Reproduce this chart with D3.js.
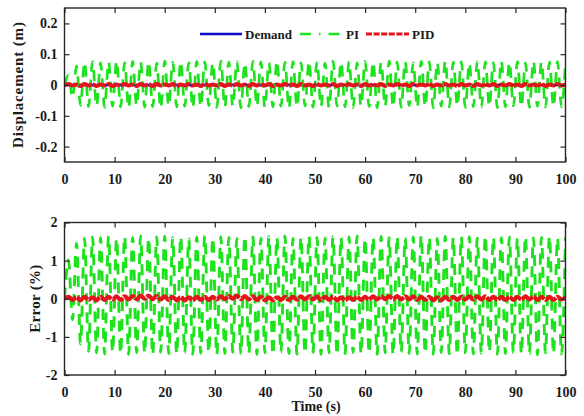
<!DOCTYPE html>
<html><head><meta charset="utf-8">
<script src="https://cdn.jsdelivr.net/npm/d3@7"></script>
<style>
body{margin:0;background:#fff}
svg{display:block}
text{font-family:"Liberation Serif","Times New Roman",serif;font-weight:bold;fill:#1a1a1a}
</style>
</head><body>
<svg id="c" width="584" height="416"></svg>
<script>
// ---- data ----
const xTicks = [0,10,20,30,40,50,60,70,80,90,100];
const dispTicks = [-0.2,-0.1,0,0.1,0.2];
const dispTickLabels = ["-0.2","-0.1","0","0.1","0.2"];
const errTicks = [-2,-1,0,1,2];
const errTickLabels = ["-2","-1","0","1","2"];
const seriesNames = ["Demand","PI","PID"];

const demandTime = [0,100];
const demandDisp = [0,0];

// times of successive extremes (half-cycle turning points) of the oscillations
const time = [
0,0.8,1.6,2.4,3.2,4,4.8,5.6,6.4,7.2,
8,8.8,9.6,10.4,11.2,12,12.8,13.6,14.4,15.2,
16,16.8,17.6,18.4,19.2,20,20.8,21.6,22.4,23.2,
24,24.8,25.6,26.4,27.2,28,28.8,29.6,30.4,31.2,
32,32.8,33.6,34.4,35.2,36,36.8,37.6,38.4,39.2,
40,40.8,41.6,42.4,43.2,44,44.8,45.6,46.4,47.2,
48,48.8,49.6,50.4,51.2,52,52.8,53.6,54.4,55.2,
56,56.8,57.6,58.4,59.2,60,60.8,61.6,62.4,63.2,
64,64.8,65.6,66.4,67.2,68,68.8,69.6,70.4,71.2,
72,72.8,73.6,74.4,75.2,76,76.8,77.6,78.4,79.2,
80,80.8,81.6,82.4,83.2,84,84.8,85.6,86.4,87.2,
88,88.8,89.6,90.4,91.2,92,92.8,93.6,94.4,95.2,
96,96.8,97.6,98.4,99.2,100];

const piDisp = [
0,0.032,-0.041,0.061,-0.066,0.074,-0.07,0.076,-0.068,0.072,
-0.073,0.075,-0.069,0.078,-0.071,0.073,-0.074,0.077,-0.067,0.074,
-0.072,0.076,-0.07,0.071,-0.075,0.078,-0.068,0.074,-0.071,0.076,
-0.069,0.073,-0.074,0.077,-0.07,0.075,-0.067,0.072,-0.073,0.078,
-0.071,0.074,-0.069,0.076,-0.074,0.071,-0.07,0.077,-0.068,0.075,
-0.073,0.072,-0.071,0.078,-0.069,0.074,-0.075,0.076,-0.07,0.073,
-0.068,0.077,-0.072,0.075,-0.07,0.071,-0.074,0.078,-0.069,0.074,
-0.071,0.076,-0.073,0.072,-0.068,0.077,-0.07,0.075,-0.074,0.073,
-0.069,0.078,-0.071,0.074,-0.073,0.076,-0.067,0.072,-0.072,0.077,
-0.07,0.075,-0.074,0.073,-0.069,0.078,-0.071,0.074,-0.068,0.076,
-0.073,0.071,-0.07,0.077,-0.072,0.075,-0.069,0.073,-0.074,0.078,
-0.071,0.074,-0.068,0.076,-0.07,0.072,-0.073,0.077,-0.069,0.075,
-0.072,0.074,-0.07,0.076,-0.071,0.073];

const pidDisp = [
0,0.003,-0.002,0.002,-0.003,0.003,-0.002,0.002,-0.003,0.002,
-0.002,0.003,-0.003,0.002,-0.002,0.003,-0.002,0.002,-0.003,0.003,
-0.002,0.002,-0.003,0.003,-0.002,0.002,-0.002,0.003,-0.003,0.002,
-0.002,0.003,-0.002,0.002,-0.003,0.003,-0.002,0.002,-0.002,0.003,
-0.003,0.002,-0.002,0.003,-0.002,0.002,-0.003,0.003,-0.002,0.002,
-0.002,0.003,-0.003,0.002,-0.002,0.003,-0.002,0.002,-0.003,0.003,
-0.002,0.002,-0.003,0.003,-0.002,0.002,-0.002,0.003,-0.003,0.002,
-0.002,0.003,-0.002,0.002,-0.003,0.003,-0.002,0.002,-0.002,0.003,
-0.003,0.002,-0.002,0.003,-0.002,0.002,-0.003,0.003,-0.002,0.002,
-0.002,0.003,-0.003,0.002,-0.002,0.003,-0.002,0.002,-0.003,0.003,
-0.002,0.002,-0.003,0.003,-0.002,0.002,-0.002,0.003,-0.003,0.002,
-0.002,0.003,-0.002,0.002,-0.003,0.003,-0.002,0.002,-0.002,0.003,
-0.003,0.002,-0.002,0.003,-0.002,0.002];

const piErr = [
0,1.02,-0.55,1.46,-1.18,1.58,-1.38,1.62,-1.42,1.6,
-1.45,1.64,-1.4,1.58,-1.44,1.63,-1.46,1.61,-1.41,1.65,
-1.43,1.59,-1.47,1.62,-1.4,1.64,-1.44,1.6,-1.45,1.63,
-1.42,1.57,-1.46,1.62,-1.43,1.65,-1.41,1.6,-1.47,1.63,
-1.44,1.61,-1.4,1.58,-1.45,1.64,-1.43,1.62,-1.46,1.59,
-1.42,1.63,-1.47,1.6,-1.41,1.65,-1.44,1.58,-1.45,1.62,
-1.43,1.64,-1.4,1.61,-1.46,1.59,-1.42,1.63,-1.47,1.6,
-1.44,1.62,-1.41,1.65,-1.45,1.58,-1.43,1.61,-1.46,1.64,
-1.42,1.6,-1.47,1.63,-1.4,1.59,-1.44,1.62,-1.45,1.65,
-1.43,1.61,-1.46,1.58,-1.41,1.64,-1.44,1.6,-1.47,1.62,
-1.42,1.63,-1.45,1.59,-1.43,1.65,-1.4,1.61,-1.46,1.6,
-1.44,1.62,-1.41,1.58,-1.45,1.63,-1.43,1.6,-1.47,1.61,
-1.42,1.64,-1.44,1.59,-1.45,1.6];

const pidErr = [
0,0.05,-0.03,0.04,-0.04,0.05,-0.03,0.04,-0.04,0.05,
-0.03,0.05,-0.02,0.06,-0.03,0.06,-0.02,0.07,-0.01,0.08,
0,0.08,-0.01,0.07,-0.02,0.06,-0.03,0.05,-0.04,0.04,
-0.04,0.04,-0.04,0.05,-0.03,0.05,-0.03,0.05,-0.02,0.06,
-0.01,0.07,0,0.08,-0.01,0.07,-0.02,0.06,-0.03,0.05,
-0.04,0.04,-0.04,0.04,-0.03,0.05,-0.03,0.05,-0.02,0.06,
-0.02,0.06,-0.02,0.06,-0.03,0.05,-0.03,0.05,-0.04,0.04,
-0.04,0.04,-0.03,0.05,-0.03,0.05,-0.02,0.06,-0.02,0.06,
-0.01,0.07,-0.01,0.07,-0.02,0.06,-0.02,0.06,-0.03,0.05,
-0.03,0.05,-0.04,0.04,-0.04,0.05,-0.03,0.05,-0.03,0.05,
-0.02,0.06,-0.02,0.06,-0.02,0.06,-0.03,0.05,-0.03,0.05,
-0.03,0.05,-0.03,0.05,-0.02,0.06,-0.02,0.06,-0.03,0.05,
-0.03,0.05,-0.03,0.05,-0.02,0.04];

// ---- drawing ----
const COL = {Demand:"#0b0bc8", PI:"#1ee21e", PID:"#e3141a"};
const svg = d3.select("#c");
const x = d3.scaleLinear().domain([0,100]).range([64.5,565.5]);

const panels = [
  {id:"p1", top:8, bottom:162, domain:[-0.25,0.25], ticks:dispTicks, labels:dispTickLabels,
   ylabel:"Displacement (m)", ylx:23, yllen:126,
   series:[
     {name:"Demand", t:demandTime, v:demandDisp, w:2.5, dash:null},
     {name:"PI", t:time, v:piDisp, w:2.7, dash:"11,8"},
     {name:"PID", t:time, v:pidDisp, w:4, dash:"14,1"}]},
  {id:"p2", top:222.5, bottom:375, domain:[-2,2], ticks:errTicks, labels:errTickLabels,
   ylabel:"Error (%)", ylx:40, yllen:68,
   series:[
     {name:"PI", t:time, v:piErr, w:2.9, dash:"11,8"},
     {name:"PID", t:time, v:pidErr, w:4.2, dash:"14,1"}]}
];

panels.forEach(p => {
  const y = d3.scaleLinear().domain(p.domain).range([p.bottom, p.top]);
  const g = svg.append("g");
  g.append("clipPath").attr("id","clip-"+p.id).append("rect")
    .attr("x",x.range()[0]).attr("y",p.top)
    .attr("width",x.range()[1]-x.range()[0]).attr("height",p.bottom-p.top);

  const plot = g.append("g").attr("clip-path","url(#clip-"+p.id+")");
  p.series.forEach(s => {
    const pts = s.t.map((t,i)=>[t,s.v[i]]);
    const line = d3.line().x(d=>x(d[0])).y(d=>y(d[1])).curve(d3.curveMonotoneX);
    plot.append("path").attr("d",line(pts)).attr("fill","none")
      .attr("stroke",COL[s.name]).attr("stroke-width",s.w)
      .attr("stroke-dasharray",s.dash);
  });

  const fmtY = d => p.labels[p.ticks.indexOf(d)];
  const axes = [
    g.append("g").attr("transform",`translate(0,${p.bottom})`)
      .call(d3.axisBottom(x).tickValues(xTicks).tickSizeInner(-5).tickSizeOuter(0).tickPadding(12).tickFormat(d3.format("d"))),
    g.append("g").attr("transform",`translate(0,${p.top})`)
      .call(d3.axisTop(x).tickValues(xTicks).tickSizeInner(-5).tickSizeOuter(0).tickFormat("")),
    g.append("g").attr("transform",`translate(${x.range()[0]},0)`)
      .call(d3.axisLeft(y).tickValues(p.ticks).tickSizeInner(-5).tickSizeOuter(0).tickPadding(7).tickFormat(fmtY)),
    g.append("g").attr("transform",`translate(${x.range()[1]},0)`)
      .call(d3.axisRight(y).tickValues(p.ticks).tickSizeInner(-5).tickSizeOuter(0).tickFormat(""))
  ];
  axes.forEach(a => {
    a.attr("font-family",null).attr("font-size",null);
    a.select(".domain").remove();
    a.selectAll("line").attr("stroke","#262626").attr("stroke-width",1.2);
    a.selectAll("text").attr("font-size",14).attr("fill","#1a1a1a");
  });
  g.append("rect").attr("x",x.range()[0]).attr("y",p.top)
    .attr("width",x.range()[1]-x.range()[0]).attr("height",p.bottom-p.top)
    .attr("fill","none").attr("stroke","#262626").attr("stroke-width",1.4);

  g.append("text").attr("transform",`translate(${p.ylx},${(p.top+p.bottom)/2}) rotate(-90)`)
    .attr("text-anchor","middle").attr("font-size",15)
    .attr("textLength",p.yllen).attr("lengthAdjust","spacing")
    .text(p.ylabel);
});

svg.append("text").attr("x",316).attr("y",411).attr("text-anchor","middle")
  .attr("font-size",14).text("Time (s)");

// legend
const legend = [
  {name:seriesNames[0], x1:200, x2:242, tx:245, w:2.6, dash:null},
  {name:seriesNames[1], x1:300, x2:343, tx:346, w:2.6, dash:"11,8,1.5,8"},
  {name:seriesNames[2], x1:366, x2:409, tx:412, w:3, dash:"6,1.6"}
];
const lg = svg.append("g");
legend.forEach(l => {
  lg.append("line").attr("x1",l.x1).attr("x2",l.x2).attr("y1",34).attr("y2",34)
    .attr("stroke",COL[l.name]).attr("stroke-width",l.w).attr("stroke-dasharray",l.dash);
  lg.append("text").attr("x",l.tx).attr("y",38.5).attr("font-size",13).text(l.name);
});
</script>
</body></html>
